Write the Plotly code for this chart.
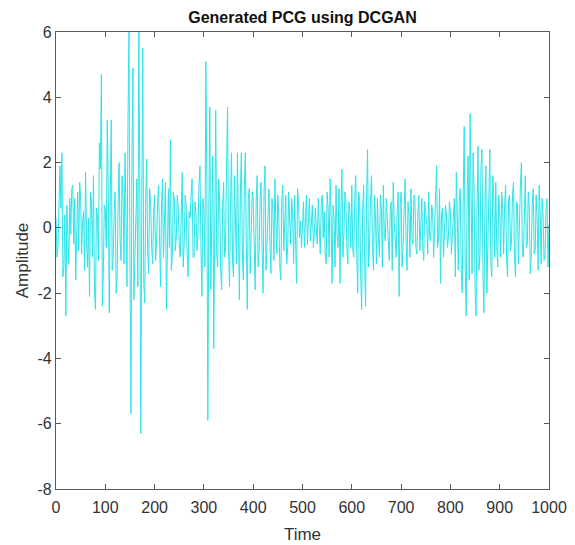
import plotly.graph_objects as go

time_step = 2
# samples at t = 0, 4, 8, ...
amp_000 = [0.3, -0.6, 1.9, 2.3, -1.2, -2.7, -0.3, 0.9, 1.2, -0.5, -1.6, 1.1, 1.4, -0.8, 0.5, 1.7, -1.2, -2.1, 0.8, 1.6, -2.5, 0.4, 2.6, 4.7, -1.4]
amp_100 = [0.6, 3.3, -2.6, 3.3, -0.9, 1.1, -1.5, 2.0, -1.0, 0.9, 2.3, -1.8, 6.0, -5.7, 4.9, -0.7, 1.5, 6.0, -6.3, 5.5, -2.3, 2.1, -1.4, 0.8, -1.1]
amp_200 = [1.0, -0.4, 1.3, -1.8, 1.5, 0.2, -2.5, 1.2, 2.7, -0.8, 0.9, -0.3, 0.6, -0.9, 1.7, -0.5, 0.7, -1.5, 0.3, 1.5, -0.9, 0.4, -0.2, 1.9, -2.1]
amp_300 = [0.5, 5.1, -5.9, 3.7, 1.2, -3.7, 3.6, -1.2, 0.8, -1.9, 1.4, -0.6, 3.7, -1.8, 2.3, -1.5, 0.3, 2.3, -2.2, 2.3, -1.6, 2.3, -2.5, 1.2, -0.4]
amp_400 = [0.9, -1.9, 1.6, -0.7, 1.4, -2.0, 1.9, -0.3, 1.2, -1.4, 0.6, 1.5, -0.8, 0.3, -1.6, 1.3, 0.1, -1.1, 1.1, -0.5, 0.4, 1.0, -1.7, 0.8, 0.2]
amp_500 = [0.3, -0.6, 1.0, 0.4, -0.4, 0.7, -0.2, 0.1, 0.9, -0.8, 1.0, 0.5, -1.1, 0.6, 1.5, -1.7, 0.3, 1.3, -0.6, -1.7, 1.8, -0.2, 0.9, -1.1, 0.5]
amp_600 = [1.3, -0.9, 1.6, -2.0, 0.8, -2.5, 1.3, -2.4, 2.4, -0.5, 1.6, -1.3, 0.4, 0.9, -0.9, 0.6, 1.3, -0.4, 0.2, -1.0, 0.8, 1.4, -0.3, 0.5, -2.1]
amp_700 = [1.1, -0.6, 1.5, -1.3, 0.4, 1.2, -0.5, 0.9, -0.8, 1.0, 0.3, -0.6, 0.8, 0.1, 1.1, -0.4, 0.5, 0.2, 1.9, -0.3, -1.7, 0.6, -0.1, 0.4, -0.3]
amp_800 = [0.5, -0.2, 0.9, 1.7, -1.3, 1.2, -2.0, 3.1, -2.7, 2.2, 3.5, -1.4, 1.3, -2.7, 2.5, -0.8, 2.4, -2.6, 1.9, -0.7, 2.4, -1.5, 0.9, 1.4, -1.2]
amp_900 = [0.5, 1.1, -0.8, 1.3, -1.5, 1.0, -0.4, 1.4, -1.5, 0.7, 0.3, 2.0, -0.9, 1.6, -0.5, 0.6, -0.9, 1.2, -0.7, 0.3, 1.3, -1.1, 0.4, -0.8, 0.9, 0.1]
# samples at t = 2, 6, 10, ...
odd_000 = [-0.9, 0.8, 0.6, -1.5, 0.4, 0.7, -1.1, -0.2, 1.3, 0.9, -0.3, -0.7, 0.9, 0.2, -1.3, -0.4, 0.3, 1.1, -0.9, -1.9, 0.6, -1.0, 1.8, -2.4, 0.7]
odd_100 = [-0.6, 1.2, 0.7, -1.3, 0.5, -2.0, 0.8, -0.4, 1.6, -1.1, 0.3, 3.2, -0.9, 2.1, -2.2, 0.9, -1.8, 1.4, 0.6, -1.7, 0.9, -0.8, 1.2, -0.6, 0.5]
odd_200 = [-1.0, 0.7, -0.3, 0.6, -0.9, 1.4, 0.3, -0.6, -1.3, 1.1, -0.7, 1.0, -0.5, 0.4, -1.2, 1.0, -0.8, 0.5, 1.0, -0.9, 0.8, -0.7, 1.3, -0.6, 0.9]
odd_300 = [-1.2, 1.4, 0.6, -1.9, 2.2, 0.9, -0.8, 1.5, -1.3, 0.7, -0.9, 2.0, -0.6, 0.8, -1.0, 1.6, -1.1, 0.4, 1.1, -0.8, 1.2, -0.4, 0.9, -1.4, 1.1]
odd_400 = [-0.5, 0.8, -1.2, 0.9, -0.6, 1.1, -1.3, 0.7, -0.5, 0.9, -1.0, 0.2, 1.0, -1.2, 0.8, -0.7, 1.0, -0.6, 0.2, 0.9, -1.1, -0.4, 1.2, -0.3, -0.6]
odd_500 = [0.8, 0.2, -0.5, 0.9, 0.1, -0.6, 0.6, -0.5, -0.2, 0.7, -0.3, -0.8, 1.1, -0.9, 0.4, 0.7, -1.2, -0.2, 1.2, 0.6, -0.9, 1.1, -0.7, 0.8, -0.6]
odd_600 = [-0.7, 0.9, -0.8, 1.1, -1.4, 0.6, -1.0, 1.0, -1.2, 0.8, -0.6, 1.0, -1.1, -0.3, 1.0, -1.2, -0.2, 0.9, -0.7, 0.6, -1.3, 0.2, -0.9, 1.1, 0.7]
odd_700 = [-1.2, 0.6, -0.4, 0.8, -0.9, -0.3, 1.0, -0.6, 0.5, -0.7, 0.9, -1.0, 0.4, -0.8, -0.3, 0.7, -0.9, 1.1, -0.6, 1.2, 0.4, -0.9, 0.7, -0.6, 0.8]
odd_800 = [-0.8, 0.6, -1.5, 0.4, 0.8, -1.4, 1.0, -1.2, 1.1, -1.6, 0.9, 2.3, -1.9, 0.6, -1.3, 1.8, -1.4, 0.8, -2.0, 1.3, -1.1, 1.6, -0.9, -0.6, 1.0]
odd_900 = [-0.9, 0.6, 0.7, -1.0, 0.9, -0.7, 1.0, -0.9, 0.8, -1.1, 1.3, -0.8, 1.0, -0.6, 1.1, -1.4, 0.7, -0.8, 1.0, -1.3, 0.5, 0.9, -1.0, 0.6, -1.2]

even = amp_000 + amp_100 + amp_200 + amp_300 + amp_400 + amp_500 + amp_600 + amp_700 + amp_800 + amp_900
odd = odd_000 + odd_100 + odd_200 + odd_300 + odd_400 + odd_500 + odd_600 + odd_700 + odd_800 + odd_900
amplitude = []
for i in range(len(odd)):
    amplitude.append(even[i])
    amplitude.append(odd[i])
amplitude.append(even[-1])
time = [i * time_step for i in range(len(amplitude))]

x_ticks = [0, 100, 200, 300, 400, 500, 600, 700, 800, 900, 1000]
x_labels = [str(v) for v in x_ticks]
y_ticks = [-8, -6, -4, -2, 0, 2, 4, 6]
y_labels = [str(v) for v in y_ticks]

FONT = "Liberation Sans, Arial"
fig = go.Figure()
fig.add_trace(go.Scatter(x=time, y=amplitude, mode="lines",
                         line=dict(color="rgb(45,228,232)", width=1),
                         showlegend=False))

axis_common = dict(showgrid=False, zeroline=False, showline=True, linecolor="#5a5a5a",
                   linewidth=1.3, mirror="ticks", ticks="inside", ticklen=5,
                   tickcolor="#5a5a5a", tickwidth=1, automargin=False,
                   tickfont=dict(family=FONT, size=16, color="#333333"))

fig.update_layout(
    width=567, height=537,
    margin=dict(l=48, r=26, t=24, b=56),
    plot_bgcolor="white", paper_bgcolor="white",
    title=dict(text="<b>Generated PCG using DCGAN</b>", x=0.5, xref="paper", xanchor="center",
               y=1 - 9 / 537, yanchor="middle", automargin=False,
               font=dict(family=FONT, size=16, color="#111111")),
    xaxis=dict(range=[0, 1000], tickvals=x_ticks, ticktext=x_labels, ticklabelstandoff=4,
               title=dict(text="Time", standoff=12, font=dict(family=FONT, size=17, color="#333333")),
               **axis_common),
    yaxis=dict(range=[-8, 6], tickvals=y_ticks, ticktext=y_labels,
               title=dict(text="Amplitude", standoff=4, font=dict(family=FONT, size=17, color="#333333")),
               **axis_common),
)

fig.write_html("out.html")
